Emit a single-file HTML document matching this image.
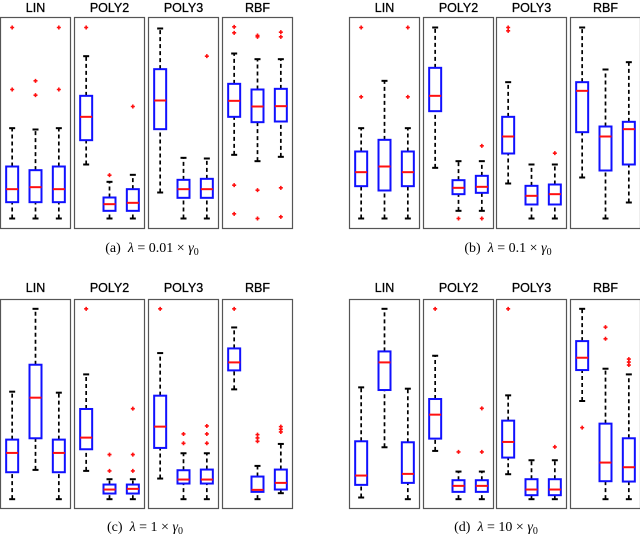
<!DOCTYPE html>
<html><head><meta charset="utf-8"><style>
html,body{margin:0;padding:0;background:#fff;}
svg{display:block;}
</style></head><body>
<svg id="fig" width="640" height="557" viewBox="0 0 640 557" xmlns="http://www.w3.org/2000/svg"></svg>
<script>
// kernel names
const kernels = ["LIN","POLY2","POLY3","RBF"];
// subplot captions
const captionPrefix = ["(a)","(b)","(c)","(d)"];
const captionFactor = ["0.01","0.1","1","10"];
// box stats per subplot: [kernel][box] = [whiskerLow, q1, median, q3, whiskerHigh]
const statsA = [
 [[30,79,118,186,301],[30,79,124,175,297],[30,79,118,186,301]],
 [[192,265,335,398,517],[30,53,73,93,140],[30,53,77,118,161]],
 [[108,298,384,478,600],[30,92,118,146,212],[30,92,118,149,210]],
 [[221,335,383,434,525],[202,319,366,417,508],[215,321,367,419,508]]];
const outA = [
 [[603,417],[443,400],[603,417]],
 [[603],[160],[366]],
 [[],[],[517]],
 [[605,587,130,44],[579,575,115,30],[589,575,122,35]]];
const statsB = [
 [[30,127,169,231,301],[30,114,186,266,443],[30,127,169,231,301]],
 [[182,352,398,482,603],[53,103,122,145,202],[53,107,125,158,202]],
 [[135,225,276,335,439],[30,72,98,128,192],[30,72,103,132,192]],
 [[153,289,413,439,603],[30,174,276,306,477],[78,192,298,320,499]]];
const outB = [
 [[603,395],[],[603,395]],
 [[],[30],[248,30]],
 [[603,593],[],[226]],
 [[],[],[]]];
const statsC = [
 [[28,109,167,207,351],[116,211,333,432,600],[28,109,167,207,348]],
 [[113,178,213,299,403],[28,45,57,72,88],[28,45,59,72,88]],
 [[90,182,246,339,467],[28,75,87,115,166],[28,75,87,117,166]],
 [[358,415,439,481,544],[28,50,56,96,128],[46,57,77,117,194]]];
const outC = [
 [[],[],[]],
 [[600],[162,113],[300,162,113]],
 [[600],[224,196],[248,224,196]],
 [[600],[222,212,202],[246,238,230]]];
const statsD = [
 [[33,71,99,202,364],[184,356,439,472,600],[28,77,104,199,360]],
 [[173,210,282,329,459],[28,50,68,85,111],[28,50,68,85,111]],
 [[103,153,200,264,340],[28,40,57,88,145],[28,40,57,88,145]],
 [[323,416,453,503,600],[28,82,138,255,420],[28,81,124,211,403]]];
const outD = [
 [[],[],[]],
 [[600],[170],[301,170]],
 [[600],[],[185]],
 [[243],[545,510],[449,440,431]]];
const allStats=[statsA,statsB,statsC,statsD];
const allOut=[outA,outB,outC,outD];
const domainMax=[633,633,628,628];

const NS="http://www.w3.org/2000/svg";
const svg=document.getElementById('fig');
function mk(tag,attrs,parent){const e=document.createElementNS(NS,tag);for(const k in attrs)e.setAttribute(k,attrs[k]);(parent||svg).appendChild(e);return e;}

const layouts=[
 {x0:[0.5,74.5,148.5,222.5],top:17.5,bottom:228.5,capX:152,capY:252,titleY:12},
 {x0:[349.5,423.5,496.5,570.5],top:17.5,bottom:228.5,capX:508,capY:252,titleY:12},
 {x0:[0.5,74.5,148.5,222.5],top:299.5,bottom:508.5,capX:145,capY:531,titleY:292},
 {x0:[349.5,423.5,496.5,570.5],top:299.5,bottom:508.5,capX:496,capY:531,titleY:292}];
const PW=70;

for(let s=0;s<4;s++){
  const L=layouts[s];
  const g=mk('g',{});
  
  
  const yScale=v=>L.bottom-v/domainMax[s]*(L.bottom-L.top);
  for(let k=0;k<4;k++){
    const px=L.x0[k];
    const pg=mk('g',{},g);
    
    
    const t=mk('text',{x:px+PW/2,y:L.titleY,'text-anchor':'middle','font-family':'Liberation Sans, sans-serif','font-size':'12.5','stroke':'#000','stroke-width':'0.25'},pg);
    t.textContent=kernels[k];
    
    
    const fr=mk('rect',{x:px,y:L.top,width:PW,height:L.bottom-L.top,fill:'none',stroke:'#555','stroke-width':1.2},pg);
    
    
    const xScale=i=>px+PW*(1+2*i)/6;
    for(let b=0;b<3;b++){
      const st=allStats[s][k][b];
      const cx=xScale(b);
      const bg=mk('g',{},pg);
      
      
      mk('line',{x1:cx,x2:cx,y1:yScale(st[0]),y2:yScale(st[1]),stroke:'#000','stroke-width':1.7,'stroke-dasharray':'4,3'},bg);
      mk('line',{x1:cx,x2:cx,y1:yScale(st[3]),y2:yScale(st[4]),stroke:'#000','stroke-width':1.7,'stroke-dasharray':'4,3'},bg);
      mk('line',{x1:cx-3,x2:cx+3,y1:yScale(st[0]),y2:yScale(st[0]),stroke:'#000','stroke-width':2},bg);
      mk('line',{x1:cx-3,x2:cx+3,y1:yScale(st[4]),y2:yScale(st[4]),stroke:'#000','stroke-width':2},bg);
      mk('rect',{x:cx-6,y:yScale(st[3]),width:12,height:yScale(st[1])-yScale(st[3]),fill:'#fff',stroke:'#1010ff','stroke-width':2},bg);
      mk('line',{x1:cx-6,x2:cx+6,y1:yScale(st[2]),y2:yScale(st[2]),stroke:'#ff1010','stroke-width':2},bg);
      for(const o of allOut[s][k][b]){
        const oy=yScale(o);
        const p=mk('path',{d:`M${cx-2},${oy}H${cx+2}M${cx},${oy-2}V${oy+2}`,stroke:'#ff1010','stroke-width':1.6},bg);
        
        
      }
    }
  }
  const c=mk('text',{x:L.capX,y:L.capY,'text-anchor':'middle','font-family':'Liberation Serif, serif','font-size':'14'},g);
  
  
  c.innerHTML=captionPrefix[s]+'&#160;&#160;<tspan font-style="italic">λ</tspan> = '+captionFactor[s]+' × <tspan font-style="italic">γ</tspan><tspan font-size="10" dy="3">0</tspan>';
}
</script>
</body></html>
